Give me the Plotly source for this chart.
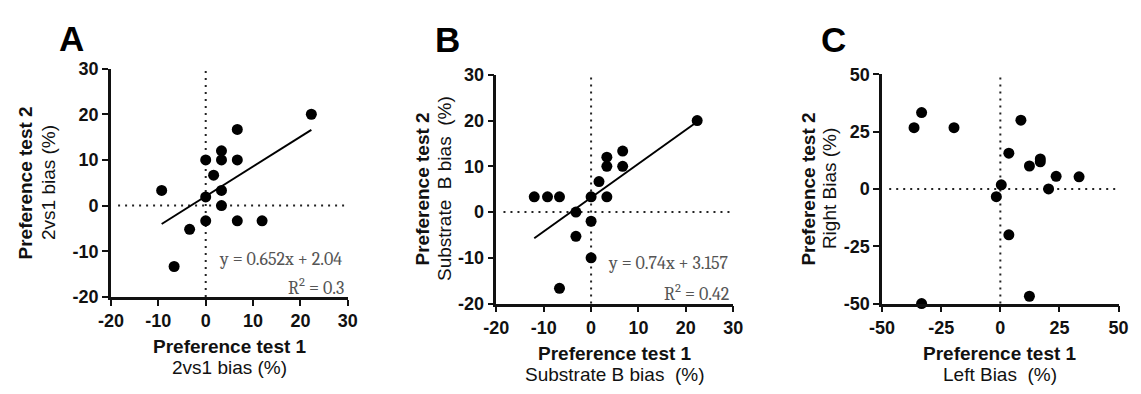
import plotly.graph_objects as go

W, H = 1141, 394

# ---------------- data ----------------
a_x = [22.3, 6.67, 3.33, 0.0, 3.33, 6.67, 1.67, -9.3, 3.33, 0.0, 3.33, 0.0, 6.67, 11.9, -3.4, -6.67]
a_y = [20.0, 16.67, 12.0, 10.0, 10.0, 10.0, 6.67, 3.33, 3.33, 1.9, 0.0, -3.33, -3.33, -3.33, -5.2, -13.33]
a_slope, a_intercept, a_r2 = 0.652, 2.04, "0.3"

b_x = [22.4, 6.67, 3.33, 3.33, 6.67, 1.67, -12.0, -9.2, -6.67, 0.0, 3.33, -3.2, 0.0, -3.2, 0.0, -6.67]
b_y = [20.0, 13.33, 12.0, 10.0, 10.0, 6.67, 3.33, 3.33, 3.33, 3.33, 3.33, 0.0, -2.0, -5.3, -10.0, -16.67]
b_slope, b_intercept, b_r2 = 0.74, 3.157, "0.42"

c_x = [-36.5, -33.3, -19.6, -33.3, 8.7, 3.6, 12.3, 16.9, 16.9, 23.6, 33.3, 20.4, 0.4, -1.7, 3.6, 12.3]
c_y = [26.7, 33.3, 26.7, -50.0, 30.0, 15.6, 10.0, 13.1, 11.8, 5.5, 5.3, 0.0, 1.8, -3.4, -20.0, -46.8]

ab_ticks = [-20, -10, 0, 10, 20, 30]
c_ticks = [-50, -25, 0, 25, 50]

panel_letters = ["A", "B", "C"]
x_titles = ["2vs1 bias (%)", "Substrate B bias  (%)", "Left Bias  (%)"]
y_titles = ["2vs1 bias (%)", "Substrate  B bias  (%)", "Right Bias (%)"]
bold_x = "Preference test 1"
bold_y = "Preference test 2"

# ---------------- layout geometry (pixels) ----------------
# plot boxes: (left, right, top, bottom)
boxes = [(100, 341.7, 61.7, 302.3), (493.3, 735, 68.3, 309.3), (887, 1128.3, 67.7, 309.3)]

def fx(px):
    return px / W

def fy(py):
    return 1 - py / H

SANS = "Arial, Liberation Sans, sans-serif"
SERIF = "Cambria, Liberation Serif, DejaVu Serif, serif"

fig = go.Figure()

datasets = [(a_x, a_y), (b_x, b_y), (c_x, c_y)]
fits = [(a_slope, a_intercept), (b_slope, b_intercept), None]

for i, ((xs, ys), fit) in enumerate(zip(datasets, fits)):
    suffix = "" if i == 0 else str(i + 1)
    if fit is not None:
        lo, hi = min(xs), max(xs)
        fig.add_trace(go.Scatter(
            x=[lo, hi], y=[fit[0] * lo + fit[1], fit[0] * hi + fit[1]],
            mode="lines", line=dict(color="black", width=2),
            xaxis="x" + suffix, yaxis="y" + suffix, showlegend=False, hoverinfo="skip"))
    fig.add_trace(go.Scatter(
        x=xs, y=ys, mode="markers",
        marker=dict(color="black", size=11, line=dict(width=0)),
        cliponaxis=False,
        xaxis="x" + suffix, yaxis="y" + suffix, showlegend=False))

layout = dict(
    width=W, height=H, margin=dict(l=0, r=0, t=0, b=0),
    paper_bgcolor="white", plot_bgcolor="white",
    font=dict(family=SANS, color="#111111"),
)

ranges = [(-20, 30, ab_ticks), (-20, 30, ab_ticks), (-50, 50, c_ticks)]
for i, (box, (lo, hi, ticks)) in enumerate(zip(boxes, ranges)):
    suffix = "" if i == 0 else str(i + 1)
    l, r, t, b = box
    common = dict(
        range=[lo, hi], tickvals=ticks, ticktext=[str(v) for v in ticks],
        showline=True, linecolor="#111111", linewidth=2.5,
        ticks="outside", ticklen=6, tickwidth=2, tickcolor="#111111",
        showgrid=False, zeroline=False, fixedrange=True,
        tickfont=dict(family=SANS, size=18, color="#111111", weight="bold"),
    )
    layout["xaxis" + suffix] = dict(common, domain=[fx(l), fx(r)], anchor="y" + suffix)
    layout["yaxis" + suffix] = dict(common, domain=[fy(b), fy(t)], anchor="x" + suffix)

shapes = []
for i in range(3):
    suffix = "" if i == 0 else str(i + 1)
    dot = dict(color="#222222", width=2, dash="2px,5px")
    shapes.append(dict(type="line", xref="x" + suffix, yref="y" + suffix + " domain",
                       x0=0, x1=0, y0=0, y1=1, line=dot, layer="below"))
    shapes.append(dict(type="line", xref="x" + suffix + " domain", yref="y" + suffix,
                       x0=0.03, x1=1, y0=0, y1=0, line=dot, layer="below"))
layout["shapes"] = shapes

ann = []
# panel letters
letter_pos = [(59.5, 30.5), (443.5, 31), (837.5, 31.5)]
for letter, (px, py) in zip(panel_letters, letter_pos):
    ann.append(dict(text=letter, x=fx(px), y=fy(py), xref="paper", yref="paper",
                    xanchor="center", yanchor="middle", showarrow=False,
                    font=dict(family=SANS, size=35, color="black", weight="bold")))

# axis titles
xt_pos = [(221, 354, 377), (614, 361.5, 383.5), (1007, 361.5, 383.5)]
yt_pos = [(13, 36, 182), (418, 441, 188.5), (812, 834, 188.5)]
for i in range(3):
    cx, yb, yr = xt_pos[i]
    ann.append(dict(text=bold_x, x=fx(cx), y=fy(yb), xref="paper", yref="paper",
                    xanchor="center", yanchor="middle", showarrow=False,
                    font=dict(family=SANS, size=19, color="#111111", weight="bold")))
    ann.append(dict(text=x_titles[i], x=fx(cx), y=fy(yr), xref="paper", yref="paper",
                    xanchor="center", yanchor="middle", showarrow=False,
                    font=dict(family=SANS, size=19, color="#111111")))
    xb, xr, cy = yt_pos[i]
    ann.append(dict(text=bold_y, x=fx(xb), y=fy(cy), xref="paper", yref="paper",
                    xanchor="center", yanchor="middle", showarrow=False, textangle=-90,
                    font=dict(family=SANS, size=19, color="#111111", weight="bold")))
    ann.append(dict(text=y_titles[i], x=fx(xr), y=fy(cy), xref="paper", yref="paper",
                    xanchor="center", yanchor="middle", showarrow=False, textangle=-90,
                    font=dict(family=SANS, size=19, color="#111111")))

# regression equations
eq_pos = [((338, 263), (340, 292)), ((733, 267), (733, 298))]
for (slope, icpt, r2), ((ex, ey), (rx, ry)) in zip(
        [(a_slope, a_intercept, a_r2), (b_slope, b_intercept, b_r2)], eq_pos):
    ann.append(dict(text=f"y = {slope}x + {icpt}", x=fx(ex), y=fy(ey), xref="paper", yref="paper",
                    xanchor="right", yanchor="middle", showarrow=False,
                    font=dict(family=SERIF, size=18, color="#555555")))
    ann.append(dict(text=f"R<sup>2</sup> = {r2}", x=fx(rx), y=fy(ry), xref="paper", yref="paper",
                    xanchor="right", yanchor="middle", showarrow=False,
                    font=dict(family=SERIF, size=18, color="#555555")))

layout["annotations"] = ann
fig.update_layout(layout)
fig.write_html("out.html")
